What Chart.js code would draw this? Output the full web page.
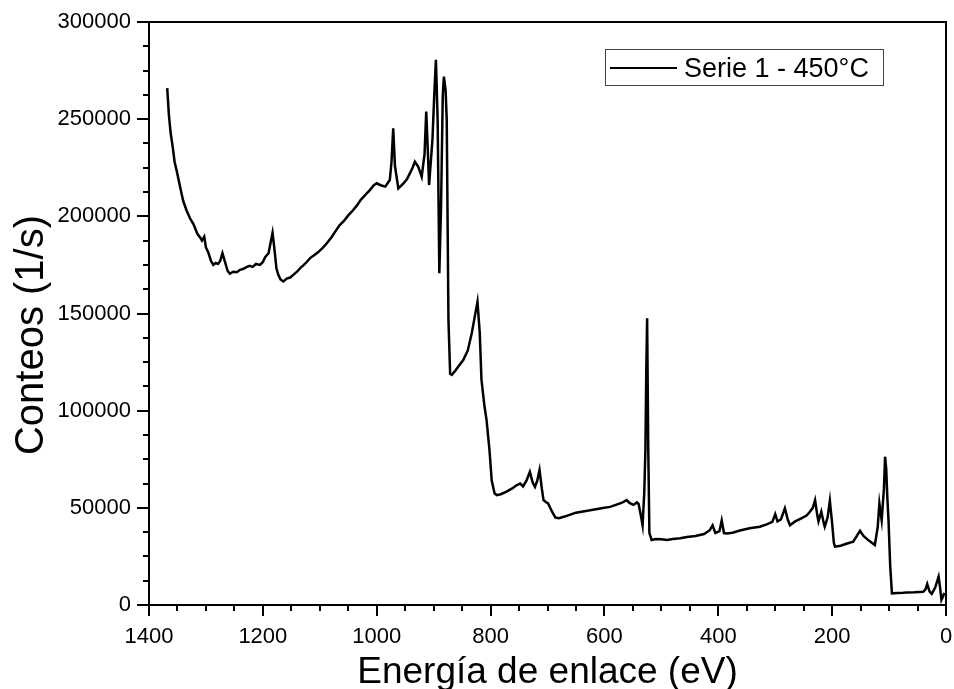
<!DOCTYPE html>
<html>
<head>
<meta charset="utf-8">
<script src="https://cdn.jsdelivr.net/npm/chart.js@4/dist/chart.umd.min.js"></script>
<style>
  html, body { margin: 0; padding: 0; background: #ffffff; }
  #c { display: block; }
</style>
</head>
<body>
<canvas id="c" width="954" height="689"></canvas>
<script>
// ---- Data (binding energy in eV, counts in 1/s) ----
const seriesLabel = 'Serie 1 - 450°C';
const xTitle = 'Energía de enlace (eV)';
const yTitle = 'Conteos (1/s)';

const energy = [
  1368, 1365, 1362, 1358, 1355, 1351, 1346, 1340, 1334, 1328, 1322, 1315, 1310, 1307, 1303, 1300,
  1296, 1291, 1287, 1283, 1279, 1275, 1271, 1266, 1262, 1258, 1252, 1246, 1240, 1234, 1228, 1223,
  1218, 1212, 1205, 1200, 1196, 1190, 1186, 1183, 1180, 1176, 1173, 1169, 1164, 1158, 1152, 1146,
  1140, 1134, 1128, 1123, 1117, 1110, 1103, 1094, 1088, 1080, 1072, 1065, 1058, 1050, 1042, 1035,
  1028, 1020, 1012, 1005, 1000, 993, 985, 977, 974, 971, 968, 962, 953, 947, 942, 937,
  933, 927, 921, 916, 913, 910, 908, 902, 899, 896, 893, 890, 887, 884, 882, 879,
  877, 874, 871, 868, 862, 856, 848, 840, 833, 828, 823, 819, 816, 811, 807, 802,
  798, 793, 789, 782, 772, 762, 755, 748, 743, 737, 731, 726, 722, 718, 714, 710,
  707, 703, 699, 692, 686, 680, 670, 660, 650, 640, 630, 620, 610, 600, 590, 580,
  570, 561, 556, 549, 543, 540, 536, 533, 530, 528, 526.5, 525, 523, 521, 517, 510,
  500, 490, 480, 467, 455, 440, 425, 415, 410, 405, 398, 394, 390, 385, 375, 362,
  345, 327, 315, 305, 300, 296, 290, 283, 278, 274, 265, 255, 245, 239, 234, 230,
  226, 224, 219, 215, 213, 208, 204, 200, 197, 195, 185, 175, 163, 151, 145, 135,
  125, 120, 117, 113, 109, 107, 105, 103, 101, 98, 95, 85, 75, 69, 55, 40,
  36, 33, 29, 25, 19, 13, 10, 8, 5, 3
];

const counts = [
  266000, 252000, 243000, 235000, 228000, 223000, 216000, 208000, 203000, 199000, 196000, 191000, 189000, 187500, 189500, 184000,
  181500, 177000, 175000, 176000, 175500, 177000, 181000, 176000, 172000, 170500, 171500, 171200, 172500, 173000, 174000, 174500,
  174000, 175500, 175000, 176500, 179000, 181000, 187000, 191500, 184000, 173000, 170000, 167500, 166500, 168000, 168500, 170000,
  171500, 173500, 175000, 176500, 178500, 180000, 181500, 184000, 186000, 189000, 192500, 195500, 197500, 200500, 203000, 205500,
  208500, 211000, 213500, 216000, 217000, 216000, 215300, 218700, 228000, 245300, 226000, 214400, 217000, 219000, 222000, 225000,
  228100, 225500, 220400, 232000, 253900, 232000, 216100, 240000, 262000, 280500, 250000, 170700, 205000, 262000, 271900, 265000,
  249600, 146700, 119000, 118400, 120500, 123000, 126000, 131000, 140000, 148000, 156000, 140000, 116000, 103000, 95000, 80000,
  64000, 57500, 56500, 57000, 58300, 60000, 61500, 62500, 61000, 64000, 68500, 63000, 60800, 64000, 69500, 60000,
  54000, 53000, 52300, 48000, 45000, 44700, 45500, 46500, 47500, 48000, 48500, 49000, 49500, 50000, 50500, 51500,
  52500, 54000, 52500, 51500, 52800, 52000, 46000, 41000, 58000, 80000, 120000, 147500, 80000, 37000, 33500, 34000,
  33800, 33500, 34000, 34300, 35000, 35500, 36500, 38500, 41000, 37000, 38000, 43500, 37000, 36800, 37200, 38300,
  39500, 40300, 41500, 42800, 46800, 43000, 44000, 49800, 44000, 41000, 43000, 44500, 46000, 48000, 50000, 54000,
  46000, 43000, 48000, 42500, 40300, 45000, 53700, 42000, 32000, 30000, 30500, 31500, 32600, 38200, 35500, 33000,
  30900, 40000, 52300, 43700, 60000, 76300, 70000, 55000, 43700, 20000, 6000, 6200, 6300, 6400, 6500, 6800,
  8000, 10800, 7000, 5700, 9000, 14600, 8000, 2600, 4500, 6200
];

const xTickValues = [1400, 1200, 1000, 800, 600, 400, 200, 0];
const yTickValues = [0, 50000, 100000, 150000, 200000, 250000, 300000];
const xMinorStep = 50;
const yMinorStep = 12500;

const FONT = "'Liberation Sans', Arial, Helvetica, sans-serif";

const framePlugin = {
  id: 'framePlugin',
  afterDraw(chart) {
    const ctx = chart.ctx;
    const a = chart.chartArea;
    const xs = chart.scales.x;
    const ys = chart.scales.y;
    ctx.save();
    ctx.strokeStyle = '#000';
    ctx.lineWidth = 2;
    ctx.strokeRect(a.left, a.top, a.right - a.left, a.bottom - a.top);
    ctx.beginPath();
    for (let v = xs.min; v <= xs.max + 0.001; v += xMinorStep) {
      const px = Math.round(xs.getPixelForValue(v));
      const major = xTickValues.includes(v);
      ctx.moveTo(px, a.bottom);
      ctx.lineTo(px, a.bottom + (major ? 11 : 6));
    }
    for (let v = ys.min; v <= ys.max + 0.001; v += yMinorStep) {
      const py = Math.round(ys.getPixelForValue(v));
      const major = yTickValues.includes(v);
      ctx.moveTo(a.left, py);
      ctx.lineTo(a.left - (major ? 12 : 6), py);
    }
    ctx.stroke();

    // y axis title
    ctx.save();
    ctx.translate(43, 335);
    ctx.rotate(-Math.PI / 2);
    ctx.fillStyle = '#000';
    ctx.font = '40px ' + FONT;
    ctx.textAlign = 'center';
    ctx.textBaseline = 'alphabetic';
    ctx.fillText(yTitle, 0, 0);
    ctx.restore();

    // legend box
    const ds = chart.data.datasets[0];
    ctx.lineWidth = 1;
    ctx.strokeStyle = '#444';
    ctx.strokeRect(605.5, 49.5, 278, 36);
    ctx.strokeStyle = ds.borderColor;
    ctx.lineWidth = 2;
    ctx.beginPath();
    ctx.moveTo(610, 68);
    ctx.lineTo(677, 68);
    ctx.stroke();
    ctx.fillStyle = '#000';
    ctx.font = '27px ' + FONT;
    ctx.textAlign = 'left';
    ctx.textBaseline = 'alphabetic';
    ctx.fillText(ds.label, 684, 77);
    ctx.restore();
  }
};

new Chart(document.getElementById('c'), {
  type: 'line',
  data: {
    datasets: [{
      label: seriesLabel,
      data: energy.map((e, i) => ({ x: e, y: counts[i] })),
      borderColor: '#000000',
      backgroundColor: '#000000',
      borderWidth: 2.5,
      pointRadius: 0,
      tension: 0,
      fill: false
    }]
  },
  options: {
    responsive: false,
    devicePixelRatio: 1,
    animation: false,
    layout: { padding: { top: 22, right: 8, left: 0, bottom: 0 } },
    plugins: {
      legend: { display: false },
      tooltip: { enabled: false },
      title: { display: false }
    },
    scales: {
      x: {
        type: 'linear',
        reverse: true,
        min: 0,
        max: 1400,
        grid: { display: false },
        border: { display: false },
        afterBuildTicks: (s) => { s.ticks = xTickValues.map(v => ({ value: v })); },
        afterFit: (s) => { s.height = 84; s.paddingLeft = 0; s.paddingRight = 0; },
        ticks: {
          autoSkip: false,
          maxRotation: 0,
          padding: 11,
          color: '#000',
          font: { family: FONT, size: 22 },
          callback: (v) => String(v)
        },
        title: {
          display: true,
          text: xTitle,
          color: '#000',
          font: { family: FONT, size: 37 },
          padding: { top: 0, bottom: -6 }
        }
      },
      y: {
        type: 'linear',
        min: 0,
        max: 300000,
        grid: { display: false },
        border: { display: false },
        afterBuildTicks: (s) => { s.ticks = yTickValues.map(v => ({ value: v })); },
        afterFit: (s) => { s.width = 149; s.paddingTop = 0; s.paddingBottom = 0; },
        ticks: {
          autoSkip: false,
          padding: 10,
          color: '#000',
          font: { family: FONT, size: 22 },
          callback: (v) => String(v)
        }
      }
    }
  },
  plugins: [framePlugin]
});
</script>
</body>
</html>
